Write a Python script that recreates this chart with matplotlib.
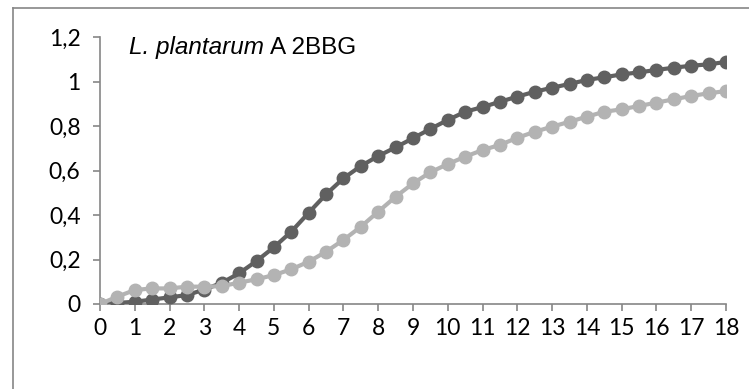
import matplotlib
matplotlib.use("Agg")
import matplotlib.pyplot as plt
from matplotlib.lines import Line2D

hours = [i * 0.5 for i in range(37)]
dark_series = [0.0, 0.005, 0.01, 0.02, 0.03, 0.04, 0.065, 0.095, 0.138, 0.193, 0.255, 0.325,
               0.41, 0.493, 0.565, 0.62, 0.665, 0.704, 0.745, 0.787, 0.827, 0.864, 0.885, 0.909,
               0.932, 0.954, 0.972, 0.989, 1.007, 1.019, 1.032, 1.041, 1.052, 1.062, 1.071, 1.077, 1.088]
light_series = [0.0, 0.033, 0.063, 0.07, 0.07, 0.078, 0.078, 0.08, 0.096, 0.111, 0.13, 0.156,
                0.19, 0.235, 0.288, 0.347, 0.415, 0.482, 0.542, 0.592, 0.629, 0.662, 0.692, 0.715,
                0.747, 0.774, 0.797, 0.819, 0.842, 0.864, 0.875, 0.89, 0.905, 0.92, 0.935, 0.947, 0.957]
y_ticks = [0, 0.2, 0.4, 0.6, 0.8, 1.0, 1.2]
y_labels = ["0", "0,2", "0,4", "0,6", "0,8", "1", "1,2"]
x_ticks = list(range(19))
x_labels = [str(v) for v in x_ticks]

W, H = 749, 389
fig = plt.figure(figsize=(W / 100, H / 100), dpi=100)
ax = fig.add_axes([100 / W, 85 / H, 626 / W, 267 / H])

ax.plot(hours, dark_series, color="#606060", lw=3, marker="o", ms=9, mec="#606060", mfc="#606060", zorder=3)
ax.plot(hours, light_series, color="#b3b3b3", lw=3, marker="o", ms=9, mec="#b3b3b3", mfc="#b3b3b3", zorder=4)

ax.set_xlim(0, 18)
ax.set_ylim(0, 1.2)
ax.set_xticks(x_ticks)
ax.set_xticklabels(x_labels)
ax.set_yticks(y_ticks)
ax.set_yticklabels(y_labels)
for s in ["top", "right"]:
    ax.spines[s].set_visible(False)
for s in ["left", "bottom"]:
    ax.spines[s].set_color("#868686")
    ax.spines[s].set_linewidth(1.2)
ax.tick_params(axis="both", colors="#868686", length=5, width=1.2, direction="out")
ax.tick_params(axis="x", pad=5, labelcolor="black", labelsize=16.5)
ax.tick_params(axis="y", pad=9, labelcolor="black", labelsize=16.5)
for lab in ax.get_xticklabels() + ax.get_yticklabels():
    lab.set_fontfamily("Lato")
for line in ax.get_xaxis().get_ticklines() + ax.get_yaxis().get_ticklines():
    line.set_clip_on(False)

t1 = fig.text(129 / W, 1 - 54 / H, "L. plantarum", fontstyle="italic", fontsize=17.5,
              family="Liberation Sans", va="baseline", ha="left")
fig.canvas.draw()
bb = t1.get_window_extent(renderer=fig.canvas.get_renderer())
fig.text((bb.x1 + 6) / W, 1 - 54 / H, "A 2BBG", fontsize=17.5, family="Liberation Sans",
         va="baseline", ha="left")

# outer chart frame (only left and top edges fall inside the image)
fig.lines.append(Line2D([12.5 / W, 12.5 / W], [0, 1 - 7.5 / H], transform=fig.transFigure,
                        color="#868686", lw=1.2))
fig.lines.append(Line2D([12.5 / W, 1], [1 - 7.5 / H, 1 - 7.5 / H], transform=fig.transFigure,
                        color="#868686", lw=1.2))

fig.savefig("out.png", dpi=100)
